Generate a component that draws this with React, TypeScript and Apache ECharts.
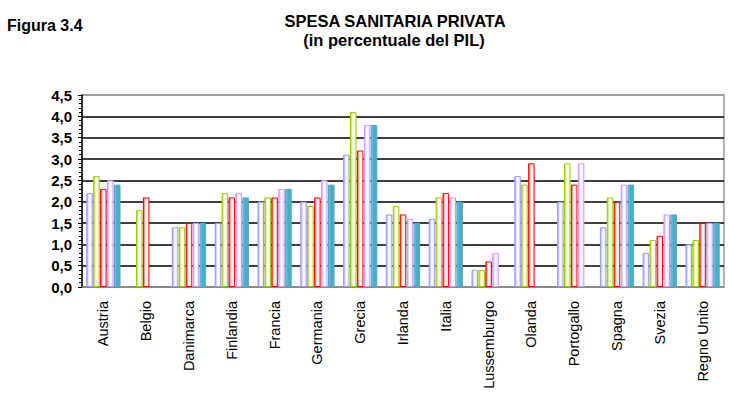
import React, { useEffect, useRef } from "react";
import * as echarts from "echarts";

const categories = ["Austria", "Belgio", "Danimarca", "Finlandia", "Francia", "Germania", "Grecia", "Irlanda", "Italia", "Lussemburgo", "Olanda", "Portogallo", "Spagna", "Svezia", "Regno Unito"];
const serie1 = [2.2, null, 1.4, 1.5, 2.0, 2.0, 3.1, 1.7, 1.6, 0.4, 2.6, 2.0, 1.4, 0.8, 1.0];
const serie2 = [2.6, 1.8, 1.4, 2.2, 2.1, 1.9, 4.1, 1.9, 2.1, 0.4, 2.4, 2.9, 2.1, 1.1, 1.1];
const serie3 = [2.3, 2.1, 1.5, 2.1, 2.1, 2.1, 3.2, 1.7, 2.2, 0.6, 2.9, 2.4, 2.0, 1.2, 1.5];
const serie4 = [2.5, null, 1.5, 2.2, 2.3, 2.5, 3.8, 1.6, 2.1, 0.8, null, 2.9, 2.4, 1.7, 1.5];
const serie5 = [2.4, null, 1.5, 2.1, 2.3, 2.4, 3.8, 1.5, 2.0, null, null, null, 2.4, 1.7, 1.5];
const seriesNames = ["Serie 1", "Serie 2", "Serie 3", "Serie 4", "Serie 5"];
const yTicks = { min: 0, max: 4.5, interval: 0.5 };

const FONT = "'Liberation Sans', Arial, sans-serif";

function grad(c0: string, c1: string, c2: string) {
  return new echarts.graphic.LinearGradient(0, 0, 1, 0, [
    { offset: 0, color: c0 },
    { offset: 0.45, color: c1 },
    { offset: 1, color: c2 },
  ]);
}

export default function App() {
  const ref = useRef<HTMLDivElement>(null);
  useEffect(() => {
    if (!ref.current) return;
    const chart = echarts.init(ref.current, null, { renderer: "svg" });
    const styles = [
      { border: "#9999ff", fill: grad("#a0a0ff", "#ffffff", "#e0e0ff") },
      { border: "#99cc00", fill: grad("#b0d830", "#ffffff", "#eaf4cc") },
      { border: "#ff0000", fill: grad("#ff4848", "#ffffff", "#ffd4d4") },
      { border: "#cc99ff", fill: grad("#d2a4ff", "#ffffff", "#eedcff") },
      { border: "#4bacc6", fill: grad("#7cc4d8", "#4bacc6", "#4bacc6") },
    ];
    const data = [serie1, serie2, serie3, serie4, serie5];
    const splitColors = ["#888", "#000", "#000", "#000", "#000", "#000", "#000", "#000", "#000", "#999"];
    chart.setOption({
      animation: false,
      backgroundColor: "#fff",
      title: [
        { text: "Figura 3.4", left: 2, top: 12, textStyle: { fontFamily: FONT, fontSize: 16, fontWeight: "bold", color: "#000" } },
        { text: "SPESA SANITARIA PRIVATA", left: 390, top: 7, textAlign: "center", textStyle: { fontFamily: FONT, fontSize: 16.5, fontWeight: "bold", color: "#000" } },
        { text: "(in percentuale del PIL)", left: 389, top: 26, textAlign: "center", textStyle: { fontFamily: FONT, fontSize: 16.5, fontWeight: "bold", color: "#000" } },
      ],
      grid: { left: 82, right: 11, top: 95, bottom: 124, show: true, borderColor: "#999", borderWidth: 1.5, backgroundColor: "transparent" },
      xAxis: {
        type: "category",
        data: categories,
        axisLine: { show: true, lineStyle: { color: "#888", width: 1.5 } },
        axisTick: { show: false },
        axisLabel: { rotate: 90, margin: 14, fontFamily: FONT, fontSize: 14.5, color: "#000", interval: 0 },
      },
      yAxis: {
        type: "value",
        min: yTicks.min,
        max: yTicks.max,
        interval: yTicks.interval,
        axisLine: { show: true, lineStyle: { color: "#000", width: 1.5 } },
        axisTick: { show: true, length: 4, lineStyle: { color: "#000" } },
        minorTick: { show: true, splitNumber: 5, length: 3, lineStyle: { color: "#000" } },
        axisLabel: {
          fontFamily: FONT, fontSize: 15, fontWeight: "bold", color: "#000", margin: 10,
          formatter: (v: number) => v.toFixed(1).replace(".", ","),
        },
        splitLine: { show: true, lineStyle: { color: splitColors, width: 1.5 } },
      },
      series: data.map((d, i) => ({
        name: seriesNames[i],
        type: "bar",
        data: d,
        barGap: "6%",
        barCategoryGap: "20%",
        itemStyle: { color: styles[i].fill, borderColor: styles[i].border, borderWidth: 1 },
      })),
    });
    return () => chart.dispose();
  }, []);
  return <div ref={ref} style={{ position: "absolute", left: 0, top: 0, width: 735, height: 411 }} />;
}
